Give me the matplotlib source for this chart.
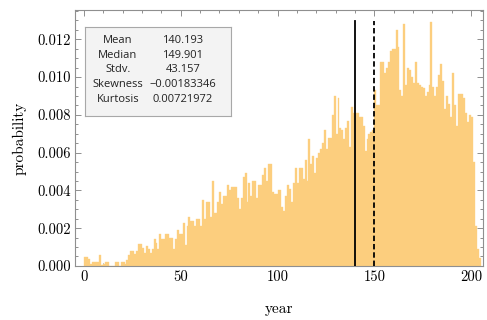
import numpy as np
import matplotlib
matplotlib.use("Agg")
import matplotlib.pyplot as plt
from matplotlib.ticker import MultipleLocator, FormatStrFormatter

# Histogram of years (bin width 1, left edges 0..204)
bin_start = 0
probability = [
    0.00045, 0.00045, 0.00035, 0.00010, 0.00020, 0.00022, 0.00022, 0.00020, 0.00058, 0.00005,
    0.00010, 0.00020, 0.00020, 0.0, 0.0, 0.0, 0.00020, 0.00020, 0.0, 0.00020,
    0.00020, 0.00010, 0.00030, 0.00060, 0.00080, 0.00080, 0.00065, 0.00080, 0.00115, 0.00115,
    0.00095, 0.00070, 0.00105, 0.00090, 0.00070, 0.00090, 0.00140, 0.00120, 0.00090, 0.00170,
    0.00140, 0.00140, 0.00170, 0.00170, 0.00150, 0.00150, 0.00090, 0.00140, 0.00190, 0.00170,
    0.00170, 0.00227, 0.00110, 0.00210, 0.00260, 0.00240, 0.00240, 0.00210, 0.00250, 0.00250,
    0.00210, 0.00350, 0.00250, 0.00340, 0.00340, 0.00260, 0.00450, 0.00280, 0.00280, 0.00340,
    0.00390, 0.00330, 0.00370, 0.00370, 0.00430, 0.00400, 0.00420, 0.00420, 0.00420, 0.00360,
    0.00300, 0.00360, 0.00470, 0.00490, 0.00340, 0.00440, 0.00370, 0.00450, 0.00450, 0.00360,
    0.00430, 0.00430, 0.00480, 0.00520, 0.00450, 0.00540, 0.00540, 0.00390, 0.00380, 0.00380,
    0.00400, 0.00400, 0.00310, 0.00290, 0.00370, 0.00430, 0.00410, 0.00340, 0.00440, 0.00520,
    0.00440, 0.00520, 0.00520, 0.00460, 0.00560, 0.00450, 0.00670, 0.00540, 0.00580, 0.00490,
    0.00570, 0.00600, 0.00620, 0.00650, 0.00720, 0.00620, 0.00680, 0.00680, 0.00800, 0.00900,
    0.00700, 0.00890, 0.00730, 0.00720, 0.00670, 0.00730, 0.00770, 0.00630, 0.00840, 0.00810,
    0.00810, 0.00810, 0.00790, 0.00790, 0.00740, 0.00610, 0.00670, 0.00700, 0.00710, 0.00720,
    0.00930, 0.00850, 0.00850, 0.01080, 0.01080, 0.01020, 0.01050, 0.01080, 0.01140, 0.01150,
    0.01150, 0.01250, 0.01160, 0.00930, 0.00900, 0.01280, 0.00960, 0.01050, 0.01040, 0.01000,
    0.00970, 0.01080, 0.00970, 0.00960, 0.00950, 0.00940, 0.00900, 0.00920, 0.00960, 0.01290,
    0.00950, 0.00900, 0.00950, 0.01010, 0.01070, 0.00980, 0.00830, 0.00900, 0.00860, 0.00790,
    0.01020, 0.00850, 0.00740, 0.00910, 0.00910, 0.00910, 0.00890, 0.00810, 0.00760, 0.00800,
    0.00790, 0.00550, 0.00210, 0.00090, 0.00040,
]
years = np.arange(bin_start, bin_start + len(probability))

# Summary statistics
stat_names = ["Mean", "Median", "Stdv.", "Skewness", "Kurtosis"]
stat_values = ["140.193", "149.901", "43.157", "\u22120.00183346", "0.00721972"]
mean_year = 140.193
median_year = 149.901
marker_top = 0.01296

fig = plt.figure(figsize=(4.87, 3.20), dpi=100)
ax = fig.add_axes([0.154, 0.169, 0.838, 0.800])

bar_color = (0.987, 0.807, 0.495)
ax.bar(years, probability, width=1.0, align="edge", color=bar_color,
       edgecolor=bar_color, linewidth=0.25, zorder=2)

ax.plot([mean_year, mean_year], [0, marker_top], color="black", lw=1.3, zorder=3)
ax.plot([median_year, median_year], [0, marker_top], color="black", lw=1.3,
        dashes=(3.0, 1.6), zorder=3)

ax.set_xlim(-4.6, 206.2)
ax.set_ylim(0, 0.01356)

serif = "cmr10"
ax.xaxis.set_major_locator(MultipleLocator(50))
ax.xaxis.set_minor_locator(MultipleLocator(10))
ax.yaxis.set_major_locator(MultipleLocator(0.002))
ax.yaxis.set_minor_locator(MultipleLocator(0.0005))
ax.yaxis.set_major_formatter(FormatStrFormatter("%.3f"))

frame_color = "#8f8f8f"
for s in ax.spines.values():
    s.set_color(frame_color)
    s.set_linewidth(0.8)
ax.tick_params(which="both", direction="in", top=True, right=True,
               color=frame_color, width=0.7)
ax.tick_params(which="major", length=4.5, labelsize=10.5, pad=3)
ax.tick_params(which="minor", length=2.5)
for lbl in ax.get_xticklabels() + ax.get_yticklabels():
    lbl.set_fontfamily(serif)

ax.set_xlabel("year", fontfamily=serif, fontsize=11, labelpad=13)
ax.set_ylabel("probability", fontfamily=serif, fontsize=11, labelpad=8)

# Statistics box
box_ax = fig.add_axes([85 / 487, 1 - 116 / 320, 146 / 487, 89 / 320])
box_ax.set_xlim(0, 1)
box_ax.set_ylim(0, 1)
box_ax.set_xticks([])
box_ax.set_yticks([])
box_ax.set_facecolor("#f3f3f3")
for s in box_ax.spines.values():
    s.set_color("#a8a8a8")
    s.set_linewidth(0.8)
row_y = np.linspace(0.85, 0.19, len(stat_names))
for name, val, y in zip(stat_names, stat_values, row_y):
    box_ax.text(0.225, y, name, ha="center", va="center", fontsize=8.0,
                family=["Open Sans", "DejaVu Sans"], color="#222222")
    box_ax.text(0.67, y, val, ha="center", va="center", fontsize=8.0,
                family=["Open Sans", "DejaVu Sans"], color="#222222")

fig.savefig("out.png", dpi=100)
